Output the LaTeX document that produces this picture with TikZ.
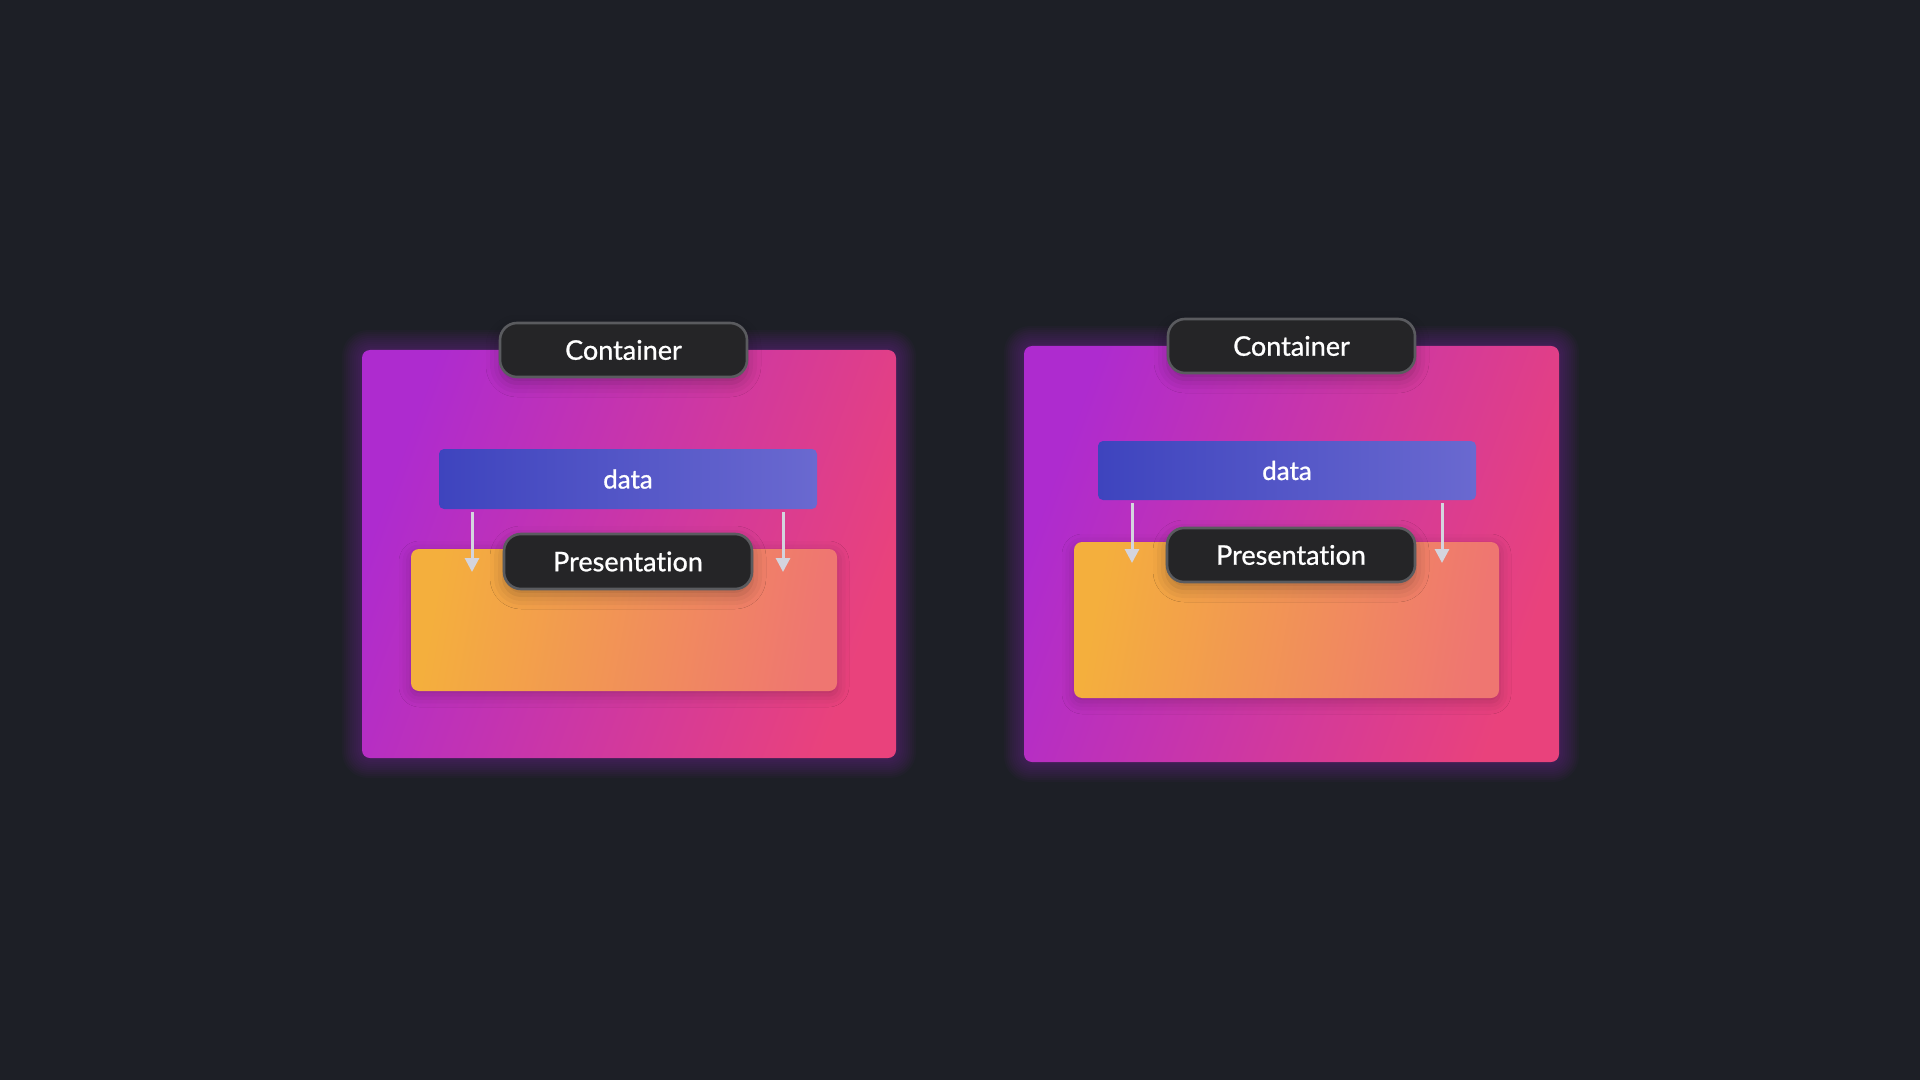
\documentclass[tikz,border=0pt]{standalone}
\usepackage{fontspec}
\setmainfont{Lato}[Ligatures=NoCommon]
\newfontfamily\lblfont{Lato}[Ligatures=NoCommon, FakeBold=0.9]
\usetikzlibrary{fit,arrows.meta,shadows.blur}
\definecolor{bg}{HTML}{1D1F26}
\definecolor{cpurple}{HTML}{AE2BCF}
\definecolor{cpink}{HTML}{E9427C}
\definecolor{dleft}{HTML}{3E44BE}
\definecolor{dright}{HTML}{6A69D0}
\definecolor{oleft}{HTML}{F4AF3D}
\definecolor{oright}{HTML}{EF7671}
\definecolor{lblfill}{HTML}{252527}
\definecolor{lbldraw}{HTML}{5A5B5F}
\definecolor{arrcol}{HTML}{D4D4DE}
\definecolor{glowcol}{HTML}{9A2CC8}
\tikzset{
  containerbox/.style={inner sep=0pt, rounded corners=4pt, left color=cpurple, right color=cpink, shading angle=70},
  databox/.style={inner sep=0pt, rounded corners=2.5pt, left color=dleft, right color=dright},
  viewbox/.style={inner sep=0pt, rounded corners=4pt, left color=oleft, right color=oright, shading angle=80,
    blur shadow={shadow xshift=0pt, shadow yshift=-2pt, shadow blur radius=6pt, shadow blur extra rounding=3pt, shadow opacity=22}},
  lbl/.style={inner sep=0pt, rounded corners=8.5pt, fill=lblfill, draw=lbldraw, line width=1.3pt,
    blur shadow={shadow xshift=0pt, shadow yshift=-3pt, shadow blur radius=7pt, shadow blur extra rounding=6pt, shadow opacity=28}},
  lbltext/.style={text=white, font=\lblfont\fontsize{13.5}{15}\selectfont},
  arr/.style={draw=arrcol, line width=1.5pt, -{Triangle[width=7pt,length=7pt]}},
}
\begin{document}
\begin{tikzpicture}[x=0.5pt,y=-0.5pt]
\useasboundingbox (0,0) rectangle (1920,1080);
\fill[bg] (0,0) rectangle (1920,1080);
% glows
\foreach \d in {2,4,...,20}{
  \fill[glowcol, fill opacity=0.035, rounded corners=5pt+\d*0.4pt] (362-\d,350-\d) rectangle (896+\d,758+\d);
  \fill[glowcol, fill opacity=0.035, rounded corners=5pt+\d*0.4pt] (1024-\d,346-\d) rectangle (1559+\d,762+\d);
}
% ---------- left ----------
\node[containerbox, fit={(362,350) (896,758)}] (contL) {};
\node[databox, fit={(439,449) (817,509)}] (dataL) {};
\node[lbltext, font=\lblfont\fontsize{13}{15}\selectfont] at (dataL.center) (dataLt) {data};
\node[viewbox, fit={(411,549) (837,691)}] (viewL) {};
\coordinate (aL1s) at (472,512);
\coordinate (aL1e) at (472,572);
\coordinate (aL2s) at (783,512);
\coordinate (aL2e) at (783,572);
\draw[arr] (aL1s) -- (aL1e);
\draw[arr] (aL2s) -- (aL2e);
\node[lbl, fit={(504,534) (752,589)}] (presL) {};
\node[lbltext] at (presL.center) (presLt) {Presentation};
\node[lbl, fit={(500,323) (747,377)}] (contLlbl) {};
\node[lbltext] at (contLlbl.center) (contLt) {Container};
% ---------- right ----------
\node[containerbox, fit={(1024,346) (1559,762)}] (contR) {};
\node[databox, fit={(1098,441) (1476,500)}] (dataR) {};
\node[lbltext, font=\lblfont\fontsize{13}{15}\selectfont] at (dataR.center) (dataRt) {data};
\node[viewbox, fit={(1074,542) (1499,698)}] (viewR) {};
\coordinate (aR1s) at (1132,503);
\coordinate (aR1e) at (1132,563);
\coordinate (aR2s) at (1442,503);
\coordinate (aR2e) at (1442,563);
\draw[arr] (aR1s) -- (aR1e);
\draw[arr] (aR2s) -- (aR2e);
\node[lbl, fit={(1167,528) (1415,582)}] (presR) {};
\node[lbltext] at (presR.center) (presRt) {Presentation};
\node[lbl, fit={(1168,319) (1415,373)}] (contRlbl) {};
\node[lbltext] at (contRlbl.center) (contRt) {Container};
\end{tikzpicture}
\end{document}
